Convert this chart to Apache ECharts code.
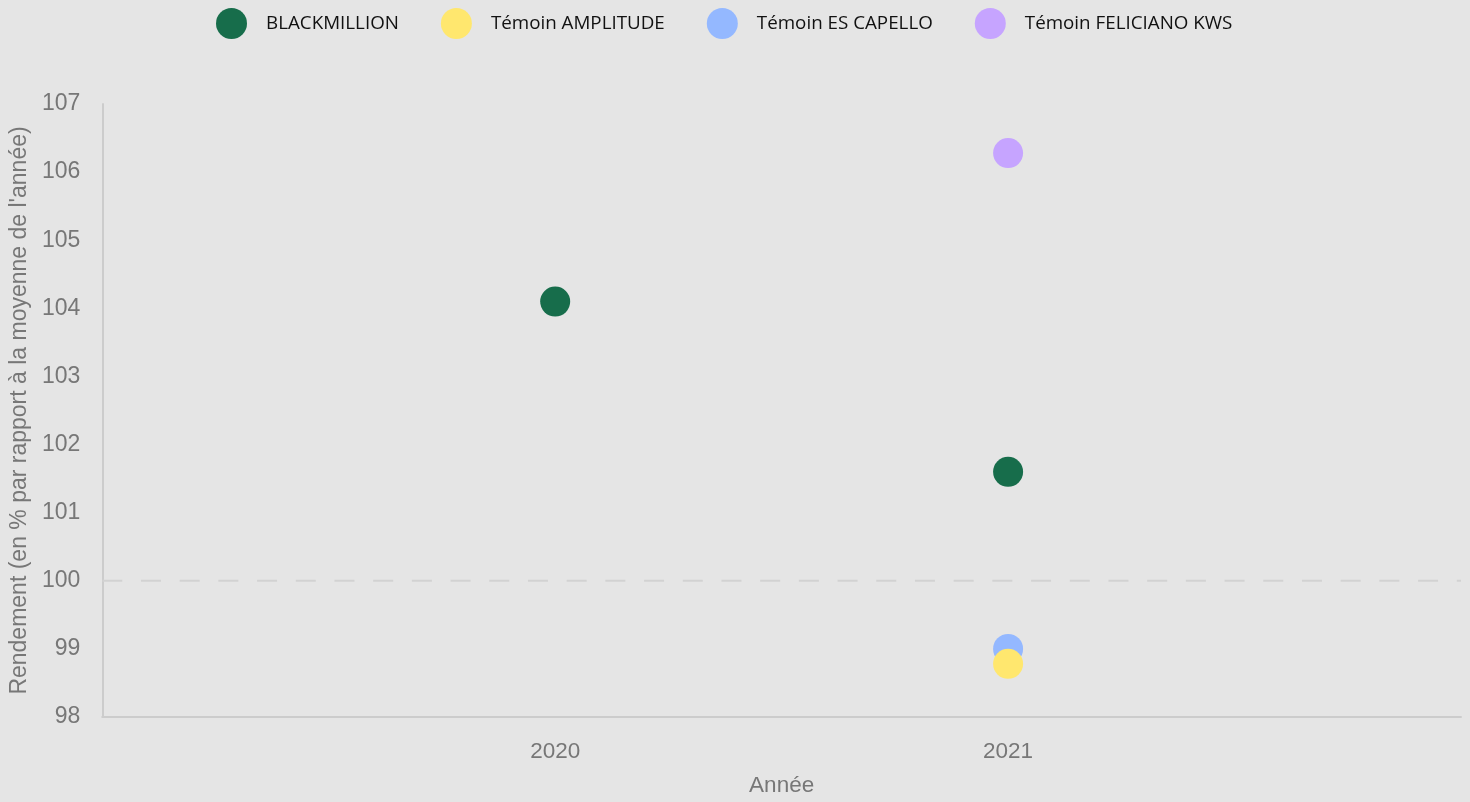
<!DOCTYPE html>
<html><head><meta charset="utf-8">
<script src="https://cdn.jsdelivr.net/npm/echarts@6/dist/echarts.min.js"></script>
<style>html,body{margin:0;padding:0;background:#e5e5e5;}#c{width:1470px;height:802px;}</style>
</head><body><div id="c"></div>
<script>
const categories = ['', '2020', '2021', ''];
const seriesNames = ['BLACKMILLION', 'Témoin AMPLITUDE', 'Témoin ES CAPELLO', 'Témoin FELICIANO KWS'];
const blackmillion = [null, 104.1, 101.6, null];
const amplitude = [null, null, 98.78, null];
const esCapello = [null, null, 99.0, null];
const feliciano = [null, null, 106.28, null];
const yTicks = [98, 99, 100, 101, 102, 103, 104, 105, 106, 107];
const refLine = [100, 100, 100, 100];
const colors = ['#176d4b', '#ffe76e', '#94b8ff', '#c6a4ff'];

const chart = echarts.init(document.getElementById('c'));
const values = [blackmillion, amplitude, esCapello, feliciano];
const zs = [3, 5, 4, 3];
const series = seriesNames.map((n, i) => ({
  name: n, type: 'scatter', data: values[i], symbolSize: 30, z: zs[i],
  itemStyle: { color: colors[i], opacity: 1 }
}));
series.unshift({
  name: 'ref', type: 'line', data: refLine, showSymbol: false, symbol: 'none', silent: true, z: 1,
  lineStyle: { color: '#d2d2d2', type: [20, 18.7], width: 2 }
});
chart.setOption({
  backgroundColor: '#e5e5e5',
  animation: false,
  legend: {
    top: 3, left: 211,
    itemWidth: 31, itemHeight: 31, itemGap: 42,
    icon: 'circle',
    textStyle: { fontFamily: 'Open Sans', fontSize: 18.8, color: '#111', padding: [0, 0, 0, 14] },
    data: seriesNames
  },
  grid: { left: 102, right: 9, top: 104, bottom: 83 },
  xAxis: {
    type: 'category', data: categories, boundaryGap: false,
    name: 'Année', nameLocation: 'middle', nameGap: 57,
    nameTextStyle: { fontFamily: 'Liberation Sans', fontSize: 22.5, color: '#777' },
    axisLine: { lineStyle: { color: '#cccccc', width: 2 } },
    axisTick: { show: false },
    axisLabel: { fontFamily: 'Liberation Sans', fontSize: 22.5, color: '#777', margin: 23 },
    splitLine: { show: false }
  },
  yAxis: {
    type: 'value', min: yTicks[0], max: yTicks[yTicks.length - 1], interval: 1,
    name: "Rendement (en % par rapport à la moyenne de l'année)", nameLocation: 'middle', nameGap: 70,
    nameTextStyle: { fontFamily: 'Liberation Sans', fontSize: 23, color: '#777' },
    axisLine: { show: true, lineStyle: { color: '#cccccc', width: 2 } },
    axisTick: { show: false },
    axisLabel: { fontFamily: 'Liberation Sans', fontSize: 23, color: '#777', margin: 22 },
    splitLine: { show: false }
  },
  series: series
});
</script></body></html>
